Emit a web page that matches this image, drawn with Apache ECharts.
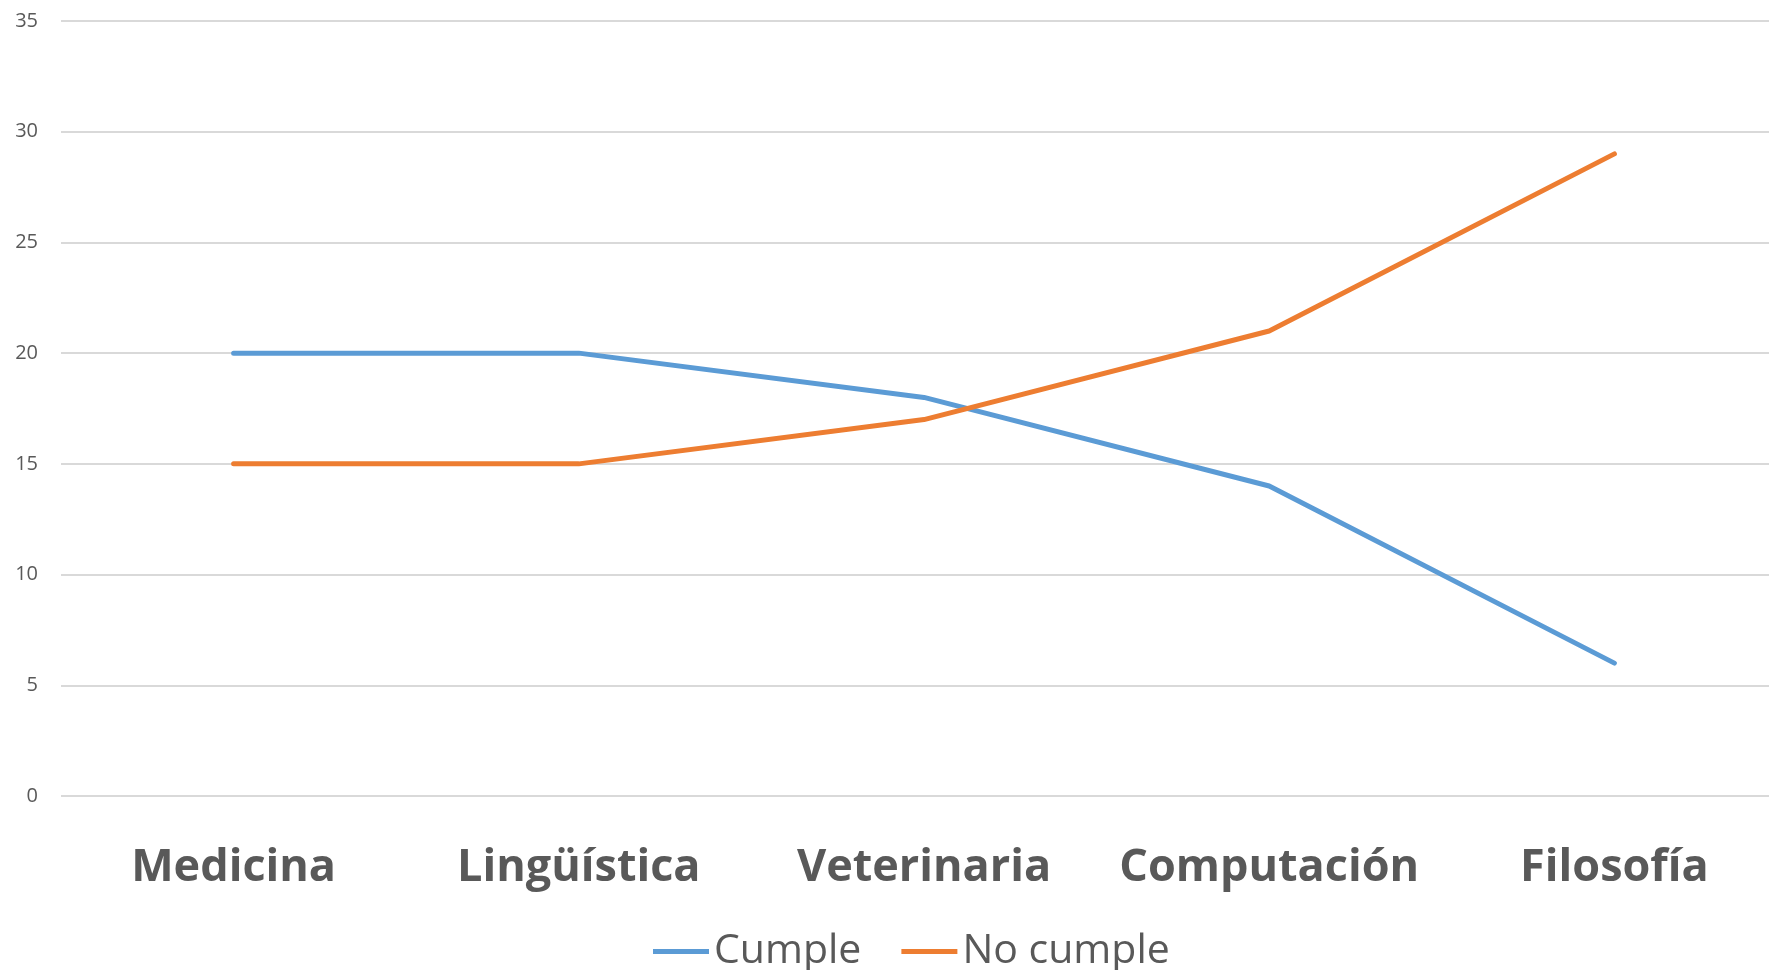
<!DOCTYPE html>
<html>
<head>
<meta charset="utf-8">
<script src="https://cdn.jsdelivr.net/npm/echarts@6/dist/echarts.min.js"></script>
<style>
  html, body { margin: 0; padding: 0; background: #fff; }
  #chart { width: 1769px; height: 970px; }
</style>
</head>
<body>
<div id="chart"></div>
<script>
var categories = ['Medicina', 'Lingüística', 'Veterinaria', 'Computación', 'Filosofía'];
var cumple = [20, 20, 18, 14, 6];
var noCumple = [15, 15, 17, 21, 29];

var ink = '#595959';
var rule = '#d9d9d9';

var chart = echarts.init(document.getElementById('chart'), null, { renderer: 'canvas' });

chart.setOption({
  animation: false,
  textStyle: { fontFamily: 'Open Sans' },
  // plot area runs past the right edge of the picture
  grid: { left: 61, width: 1726, top: 21, bottom: 174, outerBoundsMode: 'none' },
  legend: {
    data: ['Cumple', 'No cumple'],
    bottom: -7,
    left: 648,
    icon: 'rect',
    itemWidth: 56,
    itemHeight: 5,
    itemGap: 40,
    textStyle: { color: ink, fontSize: 41, fontFamily: 'Open Sans' }
  },
  xAxis: {
    type: 'category',
    data: categories,
    boundaryGap: true,
    axisLine: { show: false },
    axisTick: { show: false },
    axisLabel: {
      color: ink,
      fontSize: 45,
      fontWeight: 'bold',
      fontFamily: 'Open Sans',
      interval: 0,
      margin: 50
    }
  },
  yAxis: {
    type: 'value',
    min: 0,
    max: 35,
    interval: 5,
    axisLine: { show: false },
    axisTick: { show: false },
    axisLabel: { color: ink, fontSize: 20, margin: 23 },
    splitLine: { lineStyle: { color: rule, width: 2 } }
  },
  series: [
    {
      name: 'Cumple',
      type: 'line',
      data: cumple,
      symbol: 'none',
      color: '#5b9bd5',
      lineStyle: { width: 5, cap: 'round', join: 'round' }
    },
    {
      name: 'No cumple',
      type: 'line',
      data: noCumple,
      symbol: 'none',
      color: '#ed7d31',
      lineStyle: { width: 5, cap: 'round', join: 'round' }
    }
  ]
});

window.addEventListener('resize', function() { chart.resize(); });
</script>
</body>
</html>
